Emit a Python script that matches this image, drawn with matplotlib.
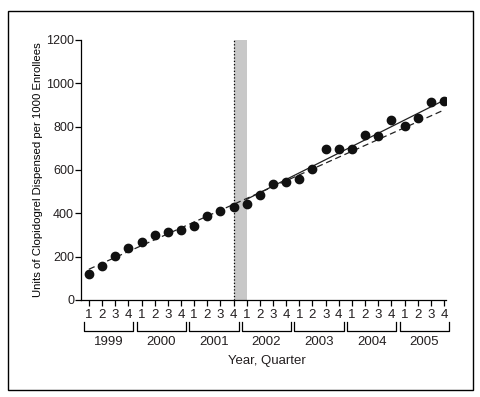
import matplotlib
matplotlib.use("Agg")
import matplotlib.pyplot as plt
import matplotlib.transforms as mtransforms
from matplotlib.patches import Rectangle
import numpy as np

years = ["1999", "2000", "2001", "2002", "2003", "2004", "2005"]
quarters = ["1", "2", "3", "4"]
units = [119, 158, 203, 239, 269, 298, 315, 321, 343, 388, 411, 429,
         441, 486, 534, 545, 557, 605, 697, 697, 697, 763, 755, 832,
         801, 841, 912, 918]
# fitted lines: (start index, start value, end index, end value)
trend_pre_x = [0, 27]
trend_pre_y = [142, 877]
trend_post_x = [12, 27]
trend_post_y = [465, 922]
yticks = [0, 200, 400, 600, 800, 1000, 1200]

plt.rcParams['font.family'] = ['Liberation Sans', 'DejaVu Sans']
plt.rcParams['text.color'] = '#231f20'
plt.rcParams['xtick.labelcolor'] = '#231f20'
plt.rcParams['ytick.labelcolor'] = '#231f20'

fig = plt.figure(figsize=(4.8, 3.97), dpi=100)
ax = fig.add_axes([81/480, 1-300/397, (446-81)/480, 260/397])

x = np.arange(len(units))
ax.axvspan(11, 12, color='#c8c8c8', lw=0, zorder=1)
ax.axvline(11, color='black', ls=':', lw=0.9, zorder=2)
ax.plot(trend_pre_x, trend_pre_y, color='#222222', lw=0.9, ls=(0, (5, 3)), zorder=3)
ax.plot(trend_post_x, trend_post_y, color='#222222', lw=0.9, zorder=3)
ax.plot(x, units, 'o', color='#111111', ms=6, zorder=4)

ax.set_xlim(-0.6, 27.15)
ax.set_ylim(0, 1200)
ax.set_yticks(yticks)
ax.set_yticklabels([str(v) for v in yticks], fontsize=9)
ax.set_xticks(x)
ax.set_xticklabels(quarters * len(years), fontsize=9.5)
ax.tick_params(axis='both', direction='out', length=4, width=0.9, color='black')
ax.tick_params(axis='x', pad=2.5)
ax.tick_params(axis='y', pad=1)
for s in ['top', 'right']:
    ax.spines[s].set_visible(False)
for s in ['left', 'bottom']:
    ax.spines[s].set_linewidth(0.9)

ax.set_ylabel("Units of Clopidogrel Dispensed per 1000 Enrollees", fontsize=8.2,
              va='center')
ax.yaxis.set_label_coords((38-81)/365, 0.5)

trans = mtransforms.blended_transform_factory(ax.transData, ax.transAxes)
yb_top = (300-322)/260
yb_bot = (300-331)/260
for i, yr in enumerate(years):
    a = i*4 - 0.38
    b = i*4 + 3.38
    ax.plot([a, a, b, b], [yb_top, yb_bot, yb_bot, yb_top], color='black', lw=0.9,
            transform=trans, clip_on=False)
    ax.text(i*4 + 1.5, (300-342)/260, yr, transform=trans, ha='center', va='center', fontsize=9.5)
ax.text(13.5, (300-361)/260, "Year, Quarter", transform=trans, ha='center', va='center', fontsize=9.5)

fig.patches.append(Rectangle((8/480, 1-390/397), (473-8)/480, (390-11)/397,
                             transform=fig.transFigure, fill=False, ec='black', lw=1))

fig.savefig("out.png", dpi=100)
